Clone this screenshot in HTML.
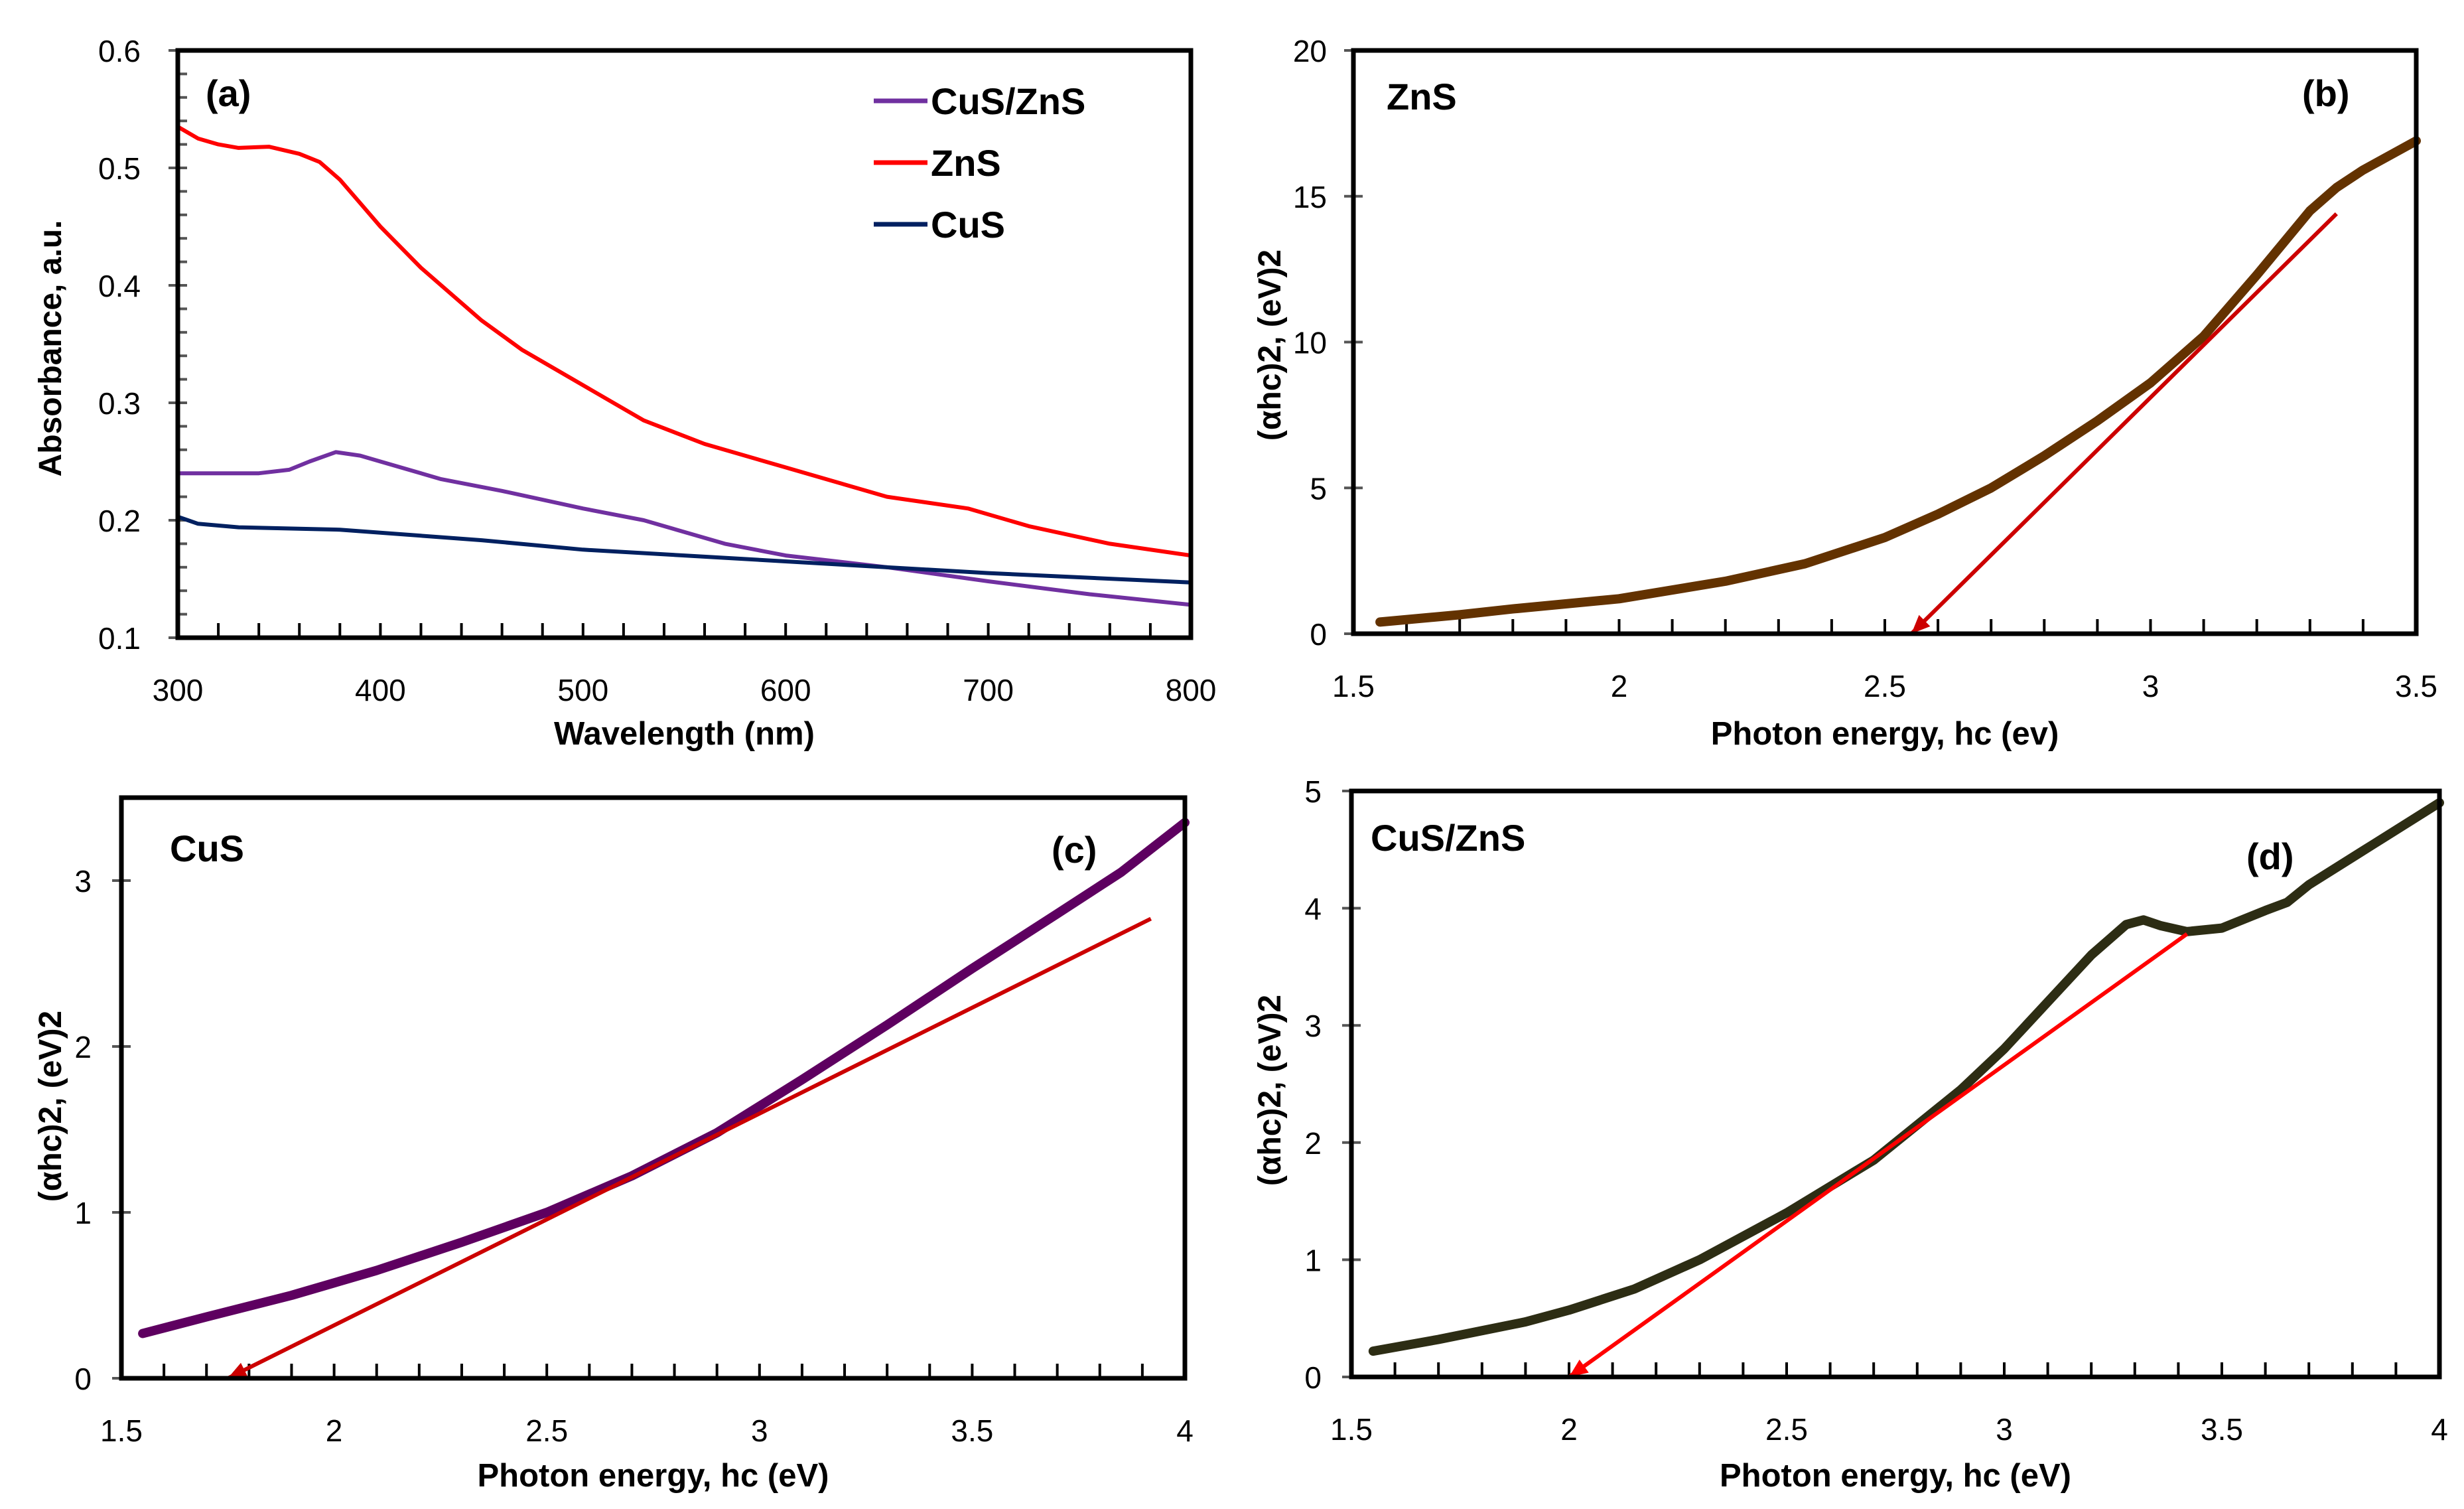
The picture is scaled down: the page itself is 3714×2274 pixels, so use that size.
<!DOCTYPE html>
<html><head><meta charset="utf-8"><style>
html,body{margin:0;padding:0;background:#fff}
svg{display:block}
.tk{font-family:"Liberation Sans Narrow","Liberation Sans",sans-serif;font-size:46px;fill:#000}
.tt{font-family:"Liberation Sans Narrow","Liberation Sans",sans-serif;font-size:49px;fill:#000;font-weight:bold}
.yt{font-family:"Liberation Sans",sans-serif;font-size:48px;fill:#000;font-weight:bold}
.lb{font-family:"Liberation Sans Narrow","Liberation Sans",sans-serif;font-size:56px;fill:#000;font-weight:bold}
</style></head><body>
<svg id="fig" width="3714" height="2274" viewBox="0 0 3714 2274" xmlns="http://www.w3.org/2000/svg"></svg>
<script>
// Panel (a) data
const aWavelength = [300,305,310,320,330,345,360,370,380,390,400,420,450,470,500,530,560,600,650,690,720,760,800];
const aZnS =        [0.535,0.53,0.525,0.52,0.517,0.518,0.512,0.505,0.49,0.47,0.45,0.415,0.37,0.345,0.315,0.285,0.265,0.245,0.22,0.21,0.195,0.18,0.17];
const aCuSZnSx = [300,320,340,355,365,378,390,400,430,460,500,530,570,600,650,700,750,800];
const aCuSZnS =  [0.24,0.24,0.24,0.243,0.25,0.258,0.255,0.25,0.235,0.225,0.21,0.2,0.18,0.17,0.16,0.148,0.137,0.128];
const aCuSx = [300,305,310,330,380,450,500,550,600,700,800];
const aCuS =  [0.203,0.2,0.197,0.194,0.192,0.183,0.175,0.17,0.165,0.155,0.147];
const aXTicks = [300,400,500,600,700,800];
const aYTicks = [0.1,0.2,0.3,0.4,0.5,0.6];
// Panel (b) data
const bX = [1.55,1.7,1.8,2.0,2.2,2.35,2.5,2.6,2.7,2.8,2.9,3.0,3.1,3.2,3.3,3.35,3.4,3.5];
const bY = [0.4,0.65,0.85,1.2,1.8,2.4,3.3,4.1,5.0,6.1,7.3,8.6,10.2,12.3,14.5,15.3,15.9,16.9];
const bFitX = [3.35,2.55];
const bFitY = [14.4,0];
const bXTicks = [1.5,2,2.5,3,3.5];
const bYTicks = [0,5,10,15,20];
// Panel (c) data
const cX = [1.55,1.7,1.9,2.1,2.3,2.5,2.7,2.9,3.1,3.3,3.5,3.7,3.85,4.0];
const cY = [0.27,0.37,0.5,0.65,0.82,1.0,1.22,1.48,1.8,2.13,2.47,2.8,3.05,3.35];
const cFitX = [3.92,1.75];
const cFitY = [2.77,0];
const cXTicks = [1.5,2,2.5,3,3.5,4];
const cYTicks = [0,1,2,3];
// Panel (d) data
const dX = [1.55,1.7,1.9,2.0,2.15,2.3,2.5,2.7,2.9,3.0,3.1,3.2,3.28,3.32,3.36,3.42,3.5,3.6,3.65,3.7,3.85,4.0];
const dY = [0.22,0.32,0.47,0.57,0.75,1.0,1.4,1.85,2.45,2.8,3.2,3.6,3.86,3.9,3.85,3.8,3.83,3.98,4.05,4.2,4.55,4.9];
const dFitX = [3.42,2.0];
const dFitY = [3.78,0];
const dXTicks = [1.5,2,2.5,3,3.5,4];
const dYTicks = [0,1,2,3,4,5];

const NS="http://www.w3.org/2000/svg";
const fig=document.getElementById('fig');
function mk(tag,attrs,parent){const e=document.createElementNS(NS,tag);for(const k in attrs)e.setAttribute(k,attrs[k]);(parent||fig).appendChild(e);return e;}
function scale(d0,d1,r0,r1){return v=>r0+(v-d0)/(d1-d0)*(r1-r0);}
function pathD(xs,ys,sx,sy){return xs.map((x,i)=>(i?'L':'M')+sx(x).toFixed(1)+' '+sy(ys[i]).toFixed(1)).join(' ');}

function panel(o){
  const g=mk('g',{});
  
  
  const sx=scale(o.xmin,o.xmax,o.L,o.R), sy=scale(o.ymin,o.ymax,o.B,o.T);
  for(let v=o.xmin;v<=o.xmax+1e-9;v+=o.xminor){
    const t=mk('line',{x1:sx(v),x2:sx(v),y1:o.B,y2:o.B-22,stroke:'#000','stroke-width':4},g);
    
    
  }
  if(o.yminor){for(let v=o.ymin;v<=o.ymax+1e-9;v+=o.yminor){
    const t=mk('line',{x1:o.L,x2:o.L+14,y1:sy(v),y2:sy(v),stroke:'#555','stroke-width':4},g);
    
    
  }}
  o.yticks.forEach(v=>{
    const t=mk('line',{x1:o.L-14,x2:o.L+14,y1:sy(v),y2:sy(v),stroke:'#555','stroke-width':4},g);
    
    
    const tx=mk('text',{x:o.L-o.ylabOff,y:sy(v)+17,'text-anchor':'end',class:'tk'},g);
    tx.textContent=String(v);
    
    
  });
  o.xticks.forEach(v=>{
    const tx=mk('text',{x:sx(v),y:o.B+95,'text-anchor':'middle',class:'tk'},g);
    tx.textContent=String(v);
    
    
  });
  o.series.forEach(s=>{
    const p=mk('path',{d:pathD(s.x,s.y,sx,sy),fill:'none',stroke:s.color,'stroke-width':s.w,'stroke-linejoin':'round','stroke-linecap':'round'},g);
    
    
  });
  if(o.fit){
    const x1=sx(o.fit.x[0]),y1=sy(o.fit.y[0]),x2=sx(o.fit.x[1]),y2=sy(o.fit.y[1]);
    const p=mk('line',{x1:x1,y1:y1,x2:x2,y2:y2,stroke:o.fit.color,'stroke-width':6},g);
    
    
    const a=Math.atan2(y2-y1,x2-x1),L=28,W=12;
    const pts=[[x2,y2],[x2-L*Math.cos(a)+W*Math.sin(a),y2-L*Math.sin(a)-W*Math.cos(a)],[x2-L*Math.cos(a)-W*Math.sin(a),y2-L*Math.sin(a)+W*Math.cos(a)]];
    const ah=mk('polygon',{points:pts.map(q=>q.join(',')).join(' '),fill:o.fit.color},g);
    
    
  }
  const fr=mk('rect',{x:o.L,y:o.T,width:o.R-o.L,height:o.B-o.T,fill:'none',stroke:'#000','stroke-width':7},g);
  
  
  const xt=mk('text',{x:(o.L+o.R)/2,y:o.xtY,'text-anchor':'middle',class:'tt'},g);
  xt.textContent=o.xtitle;
  
  
  const yt=mk('text',{x:0,y:0,'text-anchor':'middle',class:'yt','font-size':o.ytSize||48,transform:`translate(${o.ytX},${o.ytY}) rotate(-90)`},g);
  yt.textContent=o.ytitle;
  
  
  const pl=mk('text',{x:o.plX,y:o.plY,class:'lb','font-size':o.plSize||56},g);
  pl.textContent=o.pl;
  
  
  if(o.sample){
    const st=mk('text',{x:o.sample.x,y:o.sample.y,class:'lb','font-size':50},g);
    st.textContent=o.sample.t;
    
    
  }
  return g;
}

panel({name:'panel-a-absorbance',L:268,R:1795,T:76,B:961,xmin:300,xmax:800,ymin:0.1,ymax:0.6,xminor:20,yminor:0.02,
  xticks:aXTicks,yticks:aYTicks,ylabOff:56,xtY:1122,xtitle:'Wavelength (nm)',ytX:92,ytY:525,ytitle:'Absorbance, a.u.',ytSize:46,
  pl:'(a)',plX:310,plY:160,
  series:[{name:'series-zns',x:aWavelength,y:aZnS,color:'#ff0000',w:6},
          {name:'series-cus-zns',x:aCuSZnSx,y:aCuSZnS,color:'#7030a0',w:6},
          {name:'series-cus',x:aCuSx,y:aCuS,color:'#002060',w:6}]});
[['CuS/ZnS','#7030a0',152],['ZnS','#ff0000',245],['CuS','#002060',338]].forEach(l=>{
  const ln=mk('line',{x1:1317,x2:1398,y1:l[2],y2:l[2],stroke:l[1],'stroke-width':7});
  
  
  const t=mk('text',{x:1403,y:l[2]+20,class:'lb','font-size':52});
  t.textContent=l[0];
  
  
});

panel({name:'panel-b-zns-tauc',L:2040,R:3642,T:76,B:955,xmin:1.5,xmax:3.5,ymin:0,ymax:20,xminor:0.1,
  xticks:bXTicks,yticks:bYTicks,ylabOff:40,xtY:1122,xtitle:'Photon energy, hc (ev)',ytX:1930,ytY:520,ytitle:'(αhc)2, (eV)2',ytSize:64,
  pl:'(b)',plX:3470,plY:160,sample:{t:'ZnS',x:2090,y:165},
  series:[{name:'series-zns-tauc',x:bX,y:bY,color:'#633200',w:14}],
  fit:{x:bFitX,y:bFitY,color:'#cc0000'}});

panel({name:'panel-c-cus-tauc',L:183,R:1786,T:1202,B:2077,xmin:1.5,xmax:4,ymin:0,ymax:3.5,xminor:0.1,
  xticks:cXTicks,yticks:cYTicks,ylabOff:45,xtY:2240,xtitle:'Photon energy, hc (eV)',ytX:92,ytY:1667,ytitle:'(αhc)2, (eV)2',ytSize:58,
  pl:'(c)',plX:1585,plY:1300,sample:{t:'CuS',x:256,y:1298},
  series:[{name:'series-cus-tauc',x:cX,y:cY,color:'#5e0060',w:14}],
  fit:{x:cFitX,y:cFitY,color:'#cc0000'}});

panel({name:'panel-d-cus-zns-tauc',L:2037,R:3677,T:1192,B:2075,xmin:1.5,xmax:4,ymin:0,ymax:5,xminor:0.1,
  xticks:dXTicks,yticks:dYTicks,ylabOff:45,xtY:2240,xtitle:'Photon energy, hc (eV)',ytX:1930,ytY:1643,ytitle:'(αhc)2, (eV)2',ytSize:58,
  pl:'(d)',plX:3386,plY:1310,plSize:72,sample:{t:'CuS/ZnS',x:2066,y:1282},
  series:[{name:'series-cus-zns-tauc',x:dX,y:dY,color:'#2d2d14',w:14}],
  fit:{x:dFitX,y:dFitY,color:'#ff0000'}});
</script>
</body></html>
